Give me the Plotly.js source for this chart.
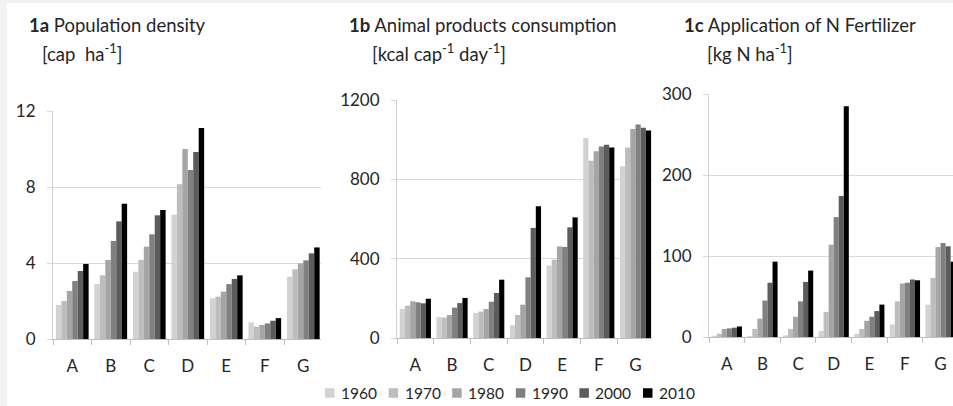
<!DOCTYPE html>
<html>
<head>
<meta charset="utf-8">
<script src="https://cdn.plot.ly/plotly-3.0.1.min.js"></script>
<style>
  html, body { margin: 0; padding: 0; background: #ffffff; }
  #chart { width: 953px; height: 406px; }
</style>
</head>
<body>
<div id="chart"></div>
<script>
// Regions on the category axis and decades shown as bar series
const regions = ['A', 'B', 'C', 'D', 'E', 'F', 'G'];
const years = ['1960', '1970', '1980', '1990', '2000', '2010'];
const yearColors = ['#d2d2d2', '#bdbdbd', '#a5a5a5', '#808080', '#5c5c5c', '#000000'];

// 1a Population density [cap ha-1], one row per decade
const popDensity = [
  [1.79, 2.89, 3.54, 6.54, 2.14, 0.88, 3.28],
  [2.00, 3.35, 4.16, 8.14, 2.23, 0.65, 3.67],
  [2.53, 4.16, 4.86, 10.0, 2.49, 0.74, 3.98],
  [3.05, 5.16, 5.51, 8.89, 2.89, 0.82, 4.14],
  [3.58, 6.19, 6.51, 9.84, 3.16, 0.96, 4.51],
  [3.95, 7.12, 6.79, 11.1, 3.35, 1.10, 4.82]
];

// 1b Animal products consumption [kcal cap-1 day-1]
const animalKcal = [
  [146, 106, 126, 64, 366, 1008, 866],
  [163, 103, 133, 116, 395, 894, 961],
  [185, 116, 146, 168, 462, 941, 1054],
  [180, 153, 183, 306, 459, 966, 1076],
  [175, 176, 227, 555, 558, 975, 1060],
  [198, 202, 294, 664, 608, 961, 1046]
];

// 1c Application of N fertilizer [kg N ha-1]
const nFertilizer = [
  [1.6, 1.2, 2, 7.4, 4, 15.6, 40],
  [4, 10, 10, 31, 10, 44, 73],
  [10, 22.6, 25, 114, 20, 66, 111],
  [10.7, 45, 44, 148, 25, 67, 116],
  [11.5, 67, 68, 174, 32, 71, 112],
  [13, 93, 82, 285, 40, 70, 93]
];

const W = 953, H = 406;
const px = v => v / W;          // horizontal pixel -> paper fraction
const py = v => 1 - v / H;      // vertical pixel -> paper fraction

const FONT = 'Lato, "Open Sans", sans-serif';
const TXT = '#262626';

const traces = [];
const panels = [
  { data: popDensity, xa: 'x', ya: 'y' },
  { data: animalKcal, xa: 'x2', ya: 'y2' },
  { data: nFertilizer, xa: 'x3', ya: 'y3' }
];
panels.forEach((p, pi) => {
  years.forEach((yr, yi) => {
    traces.push({
      type: 'bar',
      x: regions,
      y: p.data[yi],
      name: yr,
      legendgroup: yr,
      showlegend: false,
      xaxis: p.xa,
      yaxis: p.ya,
      marker: { color: yearColors[yi], line: { width: 0 } },
      hoverinfo: 'x+y+name'
    });
  });
});

function xAxis(d0, d1, rmax, anchor) {
  return {
    domain: [px(d0), px(d1)],
    anchor: anchor,
    type: 'category',
    range: [-0.5, rmax],
    showgrid: false,
    zeroline: false,
    showline: true,
    linecolor: '#bfbfbf',
    linewidth: 1,
    ticks: 'outside',
    tickson: 'boundaries',
    ticklen: 5,
    tickcolor: '#bfbfbf',
    ticklabelstandoff: 12,
    tickfont: { family: FONT, size: 17, color: TXT },
    fixedrange: true
  };
}
function yAxis(top, bottom, rmax, step, anchor) {
  return {
    domain: [py(bottom), py(top)],
    anchor: anchor,
    range: [0, rmax],
    tick0: 0,
    dtick: step,
    showgrid: true,
    gridcolor: '#d9d9d9',
    gridwidth: 1,
    zeroline: false,
    showline: true,
    linecolor: '#d0d0d0',
    linewidth: 1,
    ticks: 'outside',
    ticklen: 5,
    tickcolor: '#d9d9d9',
    ticklabelstandoff: 8,
    tickfont: { family: FONT, size: 17, color: TXT },
    fixedrange: true
  };
}

const titleFont = { family: FONT, size: 18.5, color: TXT };
function title(x, y, text) {
  return { xref: 'paper', yref: 'paper', x: px(x), y: py(y), xanchor: 'left', yanchor: 'middle',
           text: text, showarrow: false, font: titleFont };
}

const annotations = [
  title(27, 25, '<b>1a</b> Population density'),
  title(40, 52, '[cap  ha<sup>-1</sup>]'),
  title(347, 25, '<b>1b</b> Animal products consumption'),
  title(370, 52, '[kcal cap<sup>-1</sup> day<sup>-1</sup>]'),
  title(682, 25, '<b>1c</b> Application of N Fertilizer'),
  title(705, 52, '[kg N ha<sup>-1</sup>]')
];

const shapes = [
  { type: 'rect', xref: 'paper', yref: 'paper', x0: 0, x1: px(7), y0: 0, y1: 1,
    fillcolor: '#f1f2f4', line: { width: 0 }, layer: 'below' },
  { type: 'rect', xref: 'paper', yref: 'paper', x0: 0, x1: 1, y0: py(3), y1: 1,
    fillcolor: '#f1f2f4', line: { width: 0 }, layer: 'below' }
];

// Decade key along the bottom: a swatch and a label per series
const keyLeft = 325, keyStep = 63.6, keyY = 393, swatch = 9.5;
years.forEach((yr, i) => {
  const x0 = keyLeft + keyStep * i;
  shapes.push({
    type: 'rect', xref: 'paper', yref: 'paper',
    x0: px(x0), x1: px(x0 + swatch), y0: py(keyY + swatch / 2), y1: py(keyY - swatch / 2),
    fillcolor: yearColors[i], line: { width: 0 }
  });
  annotations.push({
    xref: 'paper', yref: 'paper', x: px(x0 + 14), y: py(keyY), xanchor: 'left', yanchor: 'middle',
    text: yr, showarrow: false, font: { family: FONT, size: 15.5, color: TXT }
  });
});

const layout = {
  width: W,
  height: H,
  margin: { l: 0, r: 0, t: 0, b: 0, pad: 0 },
  paper_bgcolor: '#ffffff',
  plot_bgcolor: 'rgba(0,0,0,0)',
  barmode: 'group',
  bargap: 0.15,
  bargroupgap: 0,
  font: { family: FONT, color: TXT },
  showlegend: false,
  xaxis: xAxis(53, 321, 6.46, 'y'),
  yaxis: yAxis(111, 339, 12, 4, 'x'),
  xaxis2: xAxis(397, 652, 6.45, 'y2'),
  yaxis2: yAxis(100, 338, 1200, 400, 'x2'),
  xaxis3: xAxis(709, 953, 6.35, 'y3'),
  yaxis3: yAxis(94, 337, 300, 100, 'x3'),
  annotations: annotations,
  shapes: shapes
};

Plotly.newPlot('chart', traces, layout, { displayModeBar: false, staticPlot: true });
</script>
</body>
</html>
